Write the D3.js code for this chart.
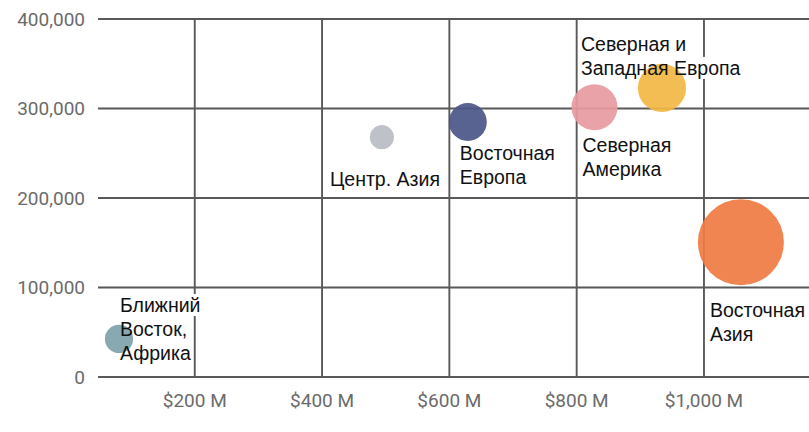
<!DOCTYPE html>
<html>
<head>
<meta charset="utf-8">
<script src="https://cdn.jsdelivr.net/npm/d3@7"></script>
<style>
  body { margin: 0; background: #fff; }
  .tick-label { font-family: Roboto, sans-serif; font-size: 19px; fill: #6b6b6b; }
  .bubble-label { font-family: "Liberation Sans", Arial, sans-serif; font-size: 19.5px; fill: #111; }
</style>
</head>
<body>
<svg id="chart" width="809" height="432"></svg>
<script>
// регионы, выручка ($ M), значение по оси Y, размер пузыря
const regions = ["Ближний Восток, Африка", "Центр. Азия", "Восточная Европа", "Северная Америка", "Северная и Западная Европа", "Восточная Азия"];
const revenue = [81, 494, 629, 828, 934, 1058];
const counts = [42500, 268000, 285000, 301500, 323000, 150500];
const sizes = [200, 145, 360, 530, 580, 1850];
const colors = ["#7fa2ab", "#b8bcc3", "#4b5688", "#e89aa2", "#f2b744", "#ef7b43"];
const xTicks = [200, 400, 600, 800, 1000];
const yTicks = [0, 100000, 200000, 300000, 400000];

// строки подписей и их сдвиг относительно центра пузыря
const labelLines = [["Ближний", "Восток,", "Африка"], ["Центр. Азия"], ["Восточная", "Европа"], ["Северная", "Америка"], ["Северная и", "Западная Европа"], ["Восточная", "Азия"]];
const labelOffset = [[1, -27], [-52, 49], [-8, 38], [-12, 45], [-81, -37], [-31, 75]];

const svg = d3.select("#chart");
const plotLeft = 98, plotRight = 809, plotTop = 19, plotBottom = 377;

const x = d3.scaleLinear().domain([48, 1165]).range([plotLeft, plotRight]);
const y = d3.scaleLinear().domain([0, 400000]).range([plotBottom, plotTop]);
const r = d3.scaleSqrt().domain([0, 1850]).range([0, 43]);

// сетка
svg.append("g").selectAll("line")
    .data(yTicks)
    .enter().append("line")
    .attr("x1", plotLeft).attr("x2", plotRight)
    .attr("y1", d => y(d)).attr("y2", d => y(d))
    .attr("stroke", "#595959").attr("stroke-width", 1.9);

svg.append("g").selectAll("line")
    .data(xTicks)
    .enter().append("line")
    .attr("x1", d => x(d)).attr("x2", d => x(d))
    .attr("y1", plotTop).attr("y2", plotBottom)
    .attr("stroke", "#595959").attr("stroke-width", 1.9);

// подписи осей
const fmtY = d3.format(",");
svg.append("g").selectAll("text")
    .data(yTicks)
    .enter().append("text")
    .attr("class", "tick-label")
    .attr("x", 85)
    .attr("y", d => y(d))
    .attr("dy", "0.35em")
    .attr("text-anchor", "end")
    .text(d => fmtY(d));

svg.append("g").selectAll("text")
    .data(xTicks)
    .enter().append("text")
    .attr("class", "tick-label")
    .attr("x", d => x(d))
    .attr("y", 407)
    .attr("text-anchor", "middle")
    .text(d => "$" + d3.format(",")(d) + " M");

const data = regions.map((name, i) => ({
    name: name,
    x: revenue[i],
    y: counts[i],
    size: sizes[i],
    color: colors[i],
    lines: labelLines[i],
    off: labelOffset[i]
}));

// фон подписей под пузырями, текст поверх
const labels = svg.append("g");
const bubbles = svg.append("g");
const texts = svg.append("g");

data.forEach(d => {
    d.lines.forEach((line, j) => {
        const t = texts.append("text")
            .attr("class", "bubble-label")
            .attr("x", x(d.x) + d.off[0])
            .attr("y", y(d.y) + d.off[1] + j * 24)
            .text(line);
        const bb = t.node().getBBox();
        labels.append("rect")
            .attr("x", bb.x - 2)
            .attr("y", bb.y)
            .attr("width", bb.width + 4)
            .attr("height", bb.height)
            .attr("fill", "#fff");
    });
});

bubbles.selectAll("circle")
    .data(data)
    .enter().append("circle")
    .attr("cx", d => x(d.x))
    .attr("cy", d => y(d.y))
    .attr("r", d => r(d.size))
    .attr("fill", d => d.color)
    .attr("fill-opacity", 0.92);
</script>
</body>
</html>
